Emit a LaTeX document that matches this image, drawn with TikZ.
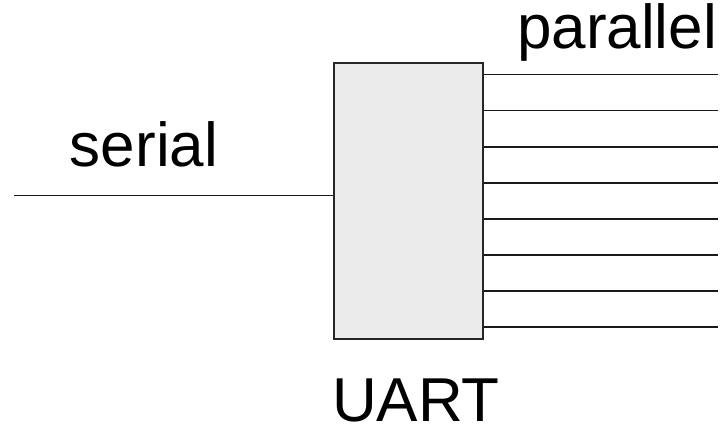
\documentclass[tikz,border=0pt]{standalone}
\usepackage{fontspec}
\setmainfont{Liberation Sans}
\begin{document}
\begin{tikzpicture}[x=1pt,y=-1pt,
  wire/.style={line width=1.6pt,black!90},
  lbl/.style={anchor=base,inner sep=0pt,font=\fontsize{62}{62}\selectfont},
  blk/.style={draw=black!85,line width=1.6pt,fill=black!8,minimum width=149pt,minimum height=276pt,inner sep=0pt}]
\useasboundingbox (0,0) rectangle (725,427);
\node[blk] (uart) at (408.5,201) {};
\coordinate (sin) at (14,195.5);
\draw[wire] (sin) -- (uart.west |- sin);
\foreach \i/\y in {1/74.5,2/110.7,3/146.8,4/182.8,5/219,6/255.2,7/291,8/326.8}{
  \coordinate (p\i) at (718,\y);
  \draw[wire] (uart.east |- p\i) -- (p\i);
}
\node[lbl] (serial) at (144,167) {serial};
\node[lbl] (parallel) at (617,49) {parallel};
\node[lbl,text depth=0pt] (uartlbl) at (416,421) {UART};
\end{tikzpicture}
\end{document}
